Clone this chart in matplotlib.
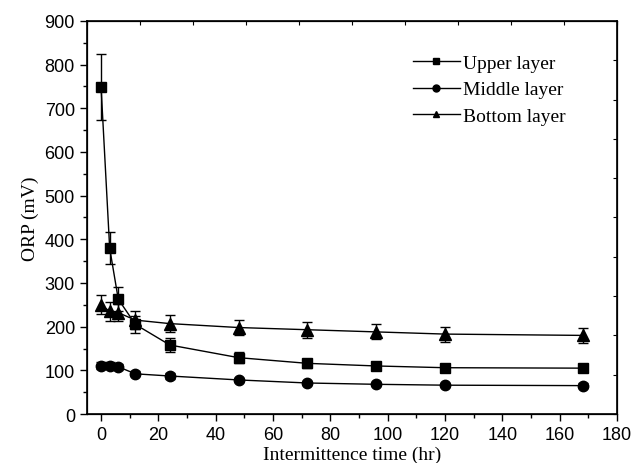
import matplotlib
matplotlib.use("Agg")
import matplotlib.pyplot as plt
import numpy as np

time_hr = [0, 3, 6, 12, 24, 48, 72, 96, 120, 168]
upper = [749, 380, 263, 205, 158, 129, 116, 110, 106, 105]
upper_err = [75, 37, 27, 20, 16, 12, 11, 9, 9, 8]
middle = [111, 110, 108, 92, 87, 78, 71, 68, 66, 65]
middle_err = [8, 8, 7, 6, 6, 5, 5, 5, 5, 5]
bottom = [250, 235, 232, 215, 207, 198, 193, 188, 183, 180]
bottom_err = [22, 22, 20, 20, 20, 18, 18, 17, 17, 17]

series = [("Upper layer", upper, upper_err, "s", 6.5),
          ("Middle layer", middle, middle_err, "o", 7.5),
          ("Bottom layer", bottom, bottom_err, "^", 8.0)]

fig = plt.figure(figsize=(6.41, 4.64), dpi=100)
ax = fig.add_axes([0.1353, 0.1056, 0.9626 - 0.1353, 0.9526 - 0.1056])

for name, vals, err, mk, ms in series:
    ax.errorbar(time_hr, vals, yerr=err, color="black", marker=mk, markersize=ms,
                linewidth=1.0, elinewidth=1.0, capsize=3.5, capthick=1.0, label=name)

ax.set_xlim(-5, 180)
ax.set_ylim(0, 900)
ax.set_xticks(np.arange(0, 181, 20))
ax.set_yticks(np.arange(0, 901, 100))
ax.set_xticks(np.arange(10, 180, 20), minor=True)
ax.set_yticks(np.arange(50, 900, 100), minor=True)
ax.tick_params(which="major", direction="out", length=5, width=1, labelsize=13)
ax.tick_params(which="minor", direction="out", length=3, width=1)
for lab in ax.get_xticklabels() + ax.get_yticklabels():
    lab.set_fontfamily("Liberation Sans")
for s in ax.spines.values():
    s.set_linewidth(1.2)

ax.set_xlabel("Intermittence time (hr)", fontfamily="Liberation Serif", fontsize=14, labelpad=2)
ax.set_ylabel("ORP (mV)", fontfamily="Liberation Serif", fontsize=14, labelpad=4)

# top / right ticks (10 divisions, inward)
axt = ax.twiny()
axt.set_xlim(0, 1)
axt.set_xticks(np.linspace(0, 1, 11))
axt.tick_params(axis="x", direction="in", length=3, labeltop=False)
axr = ax.twinx()
axr.set_ylim(0, 1)
axr.set_yticks(np.linspace(0, 1, 11))
axr.tick_params(axis="y", direction="in", length=3, labelright=False)

handles, labels = ax.get_legend_handles_labels()
handles = [h[0] for h in handles]
leg = ax.legend(handles, labels, loc="upper left", bbox_to_anchor=(0.615, 0.915),
                frameon=False, prop={"family": "Liberation Serif", "size": 14},
                handlelength=2.4, handletextpad=0.2, labelspacing=0.45, borderpad=0,
                borderaxespad=0)
for h in leg.legend_handles:
    h.set_markersize(5)

fig.savefig("out.png", dpi=100)
